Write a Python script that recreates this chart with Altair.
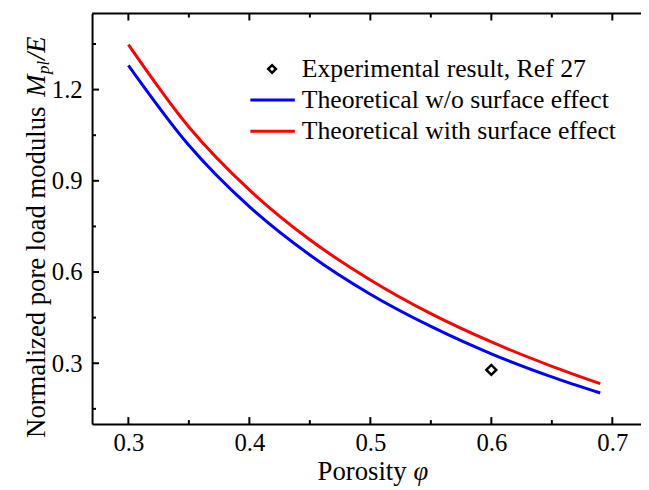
import altair as alt
import pandas as pd

# ---- data ----
phi = [0.30, 0.35, 0.40, 0.45, 0.50, 0.55, 0.60, 0.65, 0.69]
without_surface = [1.280, 1.017, 0.815, 0.656, 0.527, 0.421, 0.331, 0.255, 0.202]
with_surface = [1.348, 1.077, 0.870, 0.706, 0.574, 0.463, 0.370, 0.290, 0.233]
exp_phi = [0.60]
exp_value = [0.278]
series_names = ["Theoretical w/o surface effect", "Theoretical with surface effect"]
series_colors = ["#0000ff", "#ff0000"]
exp_label = "Experimental result, Ref 27"
x_major = [0.3, 0.4, 0.5, 0.6, 0.7]
x_minor = [0.35, 0.45, 0.55, 0.65]
y_major = [0.3, 0.6, 0.9, 1.2]
y_minor = [0.15, 0.45, 0.75, 1.05, 1.35]

W, H = 555, 415
FONT = "Liberation Serif"
FS_TICK = 25
FS_LEG = 26
FS_TITLE = 27

xs = alt.Scale(domain=[0.27, 0.7237], nice=False, zero=False)
ys = alt.Scale(domain=[0.1, 1.45], nice=False, zero=False)

AX_X = alt.Axis(values=x_major, format=".1f", title=None, ticks=False, grid=False,
                domainColor="black", domainWidth=2, labelColor="black", labelFont=FONT,
                labelFontSize=FS_TICK, labelPadding=7)
AX_Y = alt.Axis(values=y_major, format=".1f", title=None, ticks=False, grid=False,
                domainColor="black", domainWidth=2, labelColor="black", labelFont=FONT,
                labelFontSize=FS_TICK, labelPadding=10)

lines_df = pd.DataFrame({
    "phi": phi * 2,
    "value": without_surface + with_surface,
    "series": [series_names[0]] * len(phi) + [series_names[1]] * len(phi),
})
exp_df = pd.DataFrame({"phi": exp_phi, "value": exp_value})

lines = alt.Chart(lines_df).mark_line(strokeWidth=3, interpolate="monotone").encode(
    x=alt.X("phi:Q", scale=xs, axis=AX_X),
    y=alt.Y("value:Q", scale=ys, axis=AX_Y),
    color=alt.Color("series:N", scale=alt.Scale(domain=series_names, range=series_colors), legend=None),
    detail="series:N",
)

points = alt.Chart(exp_df).mark_point(shape="diamond", size=100, strokeWidth=2.5,
                                      color="black", filled=False, opacity=1).encode(
    x=alt.X("phi:Q", scale=xs, axis=AX_X),
    y=alt.Y("value:Q", scale=ys, axis=AX_Y),
)


def xticks(vals, length, top):
    df = pd.DataFrame({"phi": vals})
    y0, y1 = (0, length) if top else (H, H - length)
    return alt.Chart(df).mark_rule(color="black", strokeWidth=2).encode(
        x=alt.X("phi:Q", scale=xs, axis=AX_X), y=alt.value(y0), y2=alt.value(y1))


def yticks(vals, length):
    df = pd.DataFrame({"value": vals})
    return alt.Chart(df).mark_rule(color="black", strokeWidth=2).encode(
        y=alt.Y("value:Q", scale=ys, axis=AX_Y), x=alt.value(0), x2=alt.value(length))


top_border = alt.Chart(exp_df).mark_rule(color="black", strokeWidth=2).encode(
    x=alt.value(0), x2=alt.value(W + 2), y=alt.value(0))

# legend
leg_marker = alt.Chart(exp_df).mark_point(shape="diamond", size=60, strokeWidth=2.5,
                                          color="black", filled=False, opacity=1).encode(
    x=alt.value(182), y=alt.value(56))
leg_blue = alt.Chart(exp_df).mark_rule(color=series_colors[0], strokeWidth=3).encode(
    x=alt.value(160), x2=alt.value(205), y=alt.value(87.3))
leg_red = alt.Chart(exp_df).mark_rule(color=series_colors[1], strokeWidth=3).encode(
    x=alt.value(160), x2=alt.value(205), y=alt.value(119))


def txt(s, x, y, **kw):
    params = dict(font=FONT, fontSize=FS_LEG, color="black", align="left", baseline="middle", text=s)
    params.update(kw)
    return alt.Chart(exp_df).mark_text(**params).encode(x=alt.value(x), y=alt.value(y))


leg_texts = [
    txt(exp_label, 212, 56),
    txt(series_names[0], 212, 87.3),
    txt(series_names[1], 212, 119),
]

# axis titles (mixed upright / italic pieces)
xtitle = [
    txt("Porosity", 318, 472, align="right", baseline="alphabetic", fontSize=FS_TITLE),
    txt("\u03c6", 325, 472, align="left", baseline="alphabetic", fontStyle="italic", fontSize=FS_TITLE),
]
ytitle = [
    txt("Normalized pore load modulus", -56, 429, angle=270, align="left", fontSize=FS_TITLE),
    txt("M", -56, 84, angle=270, align="left", fontStyle="italic", fontSize=FS_TITLE),
    txt("pl", -49, 61, angle=270, align="left", fontStyle="italic", fontSize=17),
    txt("/E", -56, 47, angle=270, align="left", fontStyle="italic", fontSize=FS_TITLE),
]

chart = alt.layer(
    lines, points,
    xticks(x_major, 7, False), xticks(x_minor, 4, False),
    xticks(x_major, 7, True), xticks(x_minor, 4, True),
    yticks(y_major, 7), yticks(y_minor, 4),
    top_border, leg_marker, leg_blue, leg_red, *leg_texts, *xtitle, *ytitle,
).properties(
    width=W, height=H,
    autosize=alt.AutoSizeParams(type="none"),
    padding={"left": 85, "top": 3, "right": 0, "bottom": 60},
).configure_view(stroke=None).configure_axis(labelFont=FONT)

chart.save("out.html", embed_options={"renderer": "svg", "actions": False})
